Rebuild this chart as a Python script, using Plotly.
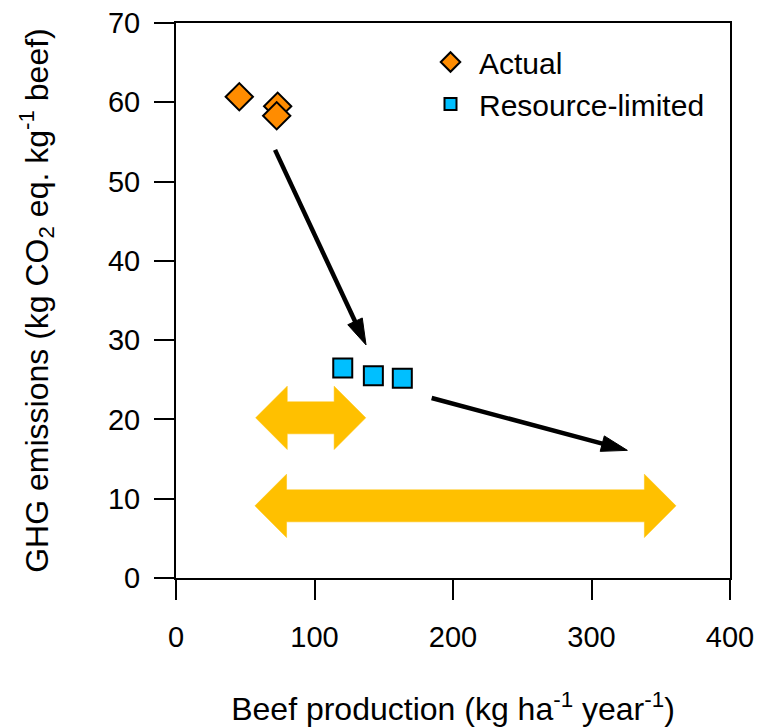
import plotly.graph_objects as go

# ---------------- data ----------------
actual_x = [45.7, 73.4, 72.7]
actual_y = [60.7, 59.5, 58.3]

limited_x = [120.4, 142.5, 163.4]
limited_y = [26.5, 25.5, 25.2]

# black arrows (start x, start y, end x, end y)
arrow_x0 = [71.5, 184.6]
arrow_y0 = [54.0, 22.7]
arrow_x1 = [137.2, 325.9]
arrow_y1 = [29.4, 16.1]

# yellow double arrows (range of beef production, at a given y)
range_lo = [57.5, 57.0]
range_hi = [137.0, 361.0]
range_y = [20.2, 9.1]

x_ticks = [0, 100, 200, 300, 400]
y_ticks = [0, 10, 20, 30, 40, 50, 60, 70]

# ---------------- layout constants ----------------
W, H = 757, 727
PL, PR, PT, PB = 176, 730, 23, 578   # plot area in page pixels
ML, MT = PL, PT
MR = W - PR
MB = H - PB
XR = [0, 400]
YR = [0, 70]
sx = (PR - PL) / (XR[1] - XR[0])   # px per x unit
sy = (PB - PT) / (YR[1] - YR[0])   # px per y unit

FONT = "Arial, Liberation Sans, sans-serif"

fig = go.Figure()

# yellow double arrows
HEAD_L, HEAD_HW, SHAFT_HW = 31.6, 31.7, 16.0
for lo, hi, yc in zip(range_lo, range_hi, range_y):
    hl = HEAD_L / sx
    hh = HEAD_HW / sy
    sh = SHAFT_HW / sy
    xs = [lo, lo + hl, lo + hl, hi - hl, hi - hl, hi, hi - hl, hi - hl, lo + hl, lo + hl, lo]
    ys = [yc, yc + hh, yc + sh, yc + sh, yc + hh, yc, yc - hh, yc - sh, yc - sh, yc - hh, yc]
    fig.add_trace(go.Scatter(x=xs, y=ys, mode="lines", fill="toself",
                             fillcolor="#FFC000", line=dict(color="#FFC000", width=0.5),
                             showlegend=False, hoverinfo="skip"))

# black arrows
AL, AW = 26.0, 8.0
for x0, y0, x1, y1 in zip(arrow_x0, arrow_y0, arrow_x1, arrow_y1):
    dx, dy = (x1 - x0) * sx, (y1 - y0) * sy
    n = (dx * dx + dy * dy) ** 0.5
    ux, uy = dx / n, dy / n
    px, py = -uy, ux
    bx, by = x1 * sx - ux * AL, y1 * sy - uy * AL
    lx, ly = x1 * sx - ux * (AL - 3), y1 * sy - uy * (AL - 3)
    fig.add_trace(go.Scatter(x=[x0, lx / sx], y=[y0, ly / sy], mode="lines",
                             line=dict(color="black", width=4.5),
                             showlegend=False, hoverinfo="skip"))
    tri_x = [x1, (bx + px * AW) / sx, (bx - px * AW) / sx, x1]
    tri_y = [y1, (by + py * AW) / sy, (by - py * AW) / sy, y1]
    fig.add_trace(go.Scatter(x=tri_x, y=tri_y, mode="lines", fill="toself",
                             fillcolor="black", line=dict(color="black", width=1),
                             showlegend=False, hoverinfo="skip"))

# data points
fig.add_trace(go.Scatter(x=actual_x, y=actual_y, mode="markers", name="Actual",
                         marker=dict(symbol="diamond", size=21, color="#FF8C00",
                                     line=dict(color="black", width=2)),
                         showlegend=False))
fig.add_trace(go.Scatter(x=limited_x, y=limited_y, mode="markers", name="Resource-limited",
                         marker=dict(symbol="square", size=19, color="#00BFFF",
                                     line=dict(color="black", width=2)),
                         showlegend=False))

# legend entries
fig.add_trace(go.Scatter(x=[None], y=[None], mode="markers", name="Actual",
                         marker=dict(symbol="diamond", size=15, color="#FF8C00",
                                     line=dict(color="black", width=2))))
fig.add_trace(go.Scatter(x=[None], y=[None], mode="markers", name="Resource-limited",
                         marker=dict(symbol="square", size=12, color="#00BFFF",
                                     line=dict(color="black", width=2))))

axis_common = dict(showgrid=False, zeroline=False, showline=True, linecolor="black",
                   linewidth=2, mirror=True, ticks="outside", ticklen=20, tickwidth=2,
                   tickcolor="black", automargin=False, ticklabeloverflow="allow",
                   tickfont=dict(family=FONT, size=29, color="black"))

fig.update_layout(
    width=W, height=H,
    margin=dict(l=ML, r=MR, t=MT, b=MB, pad=0, autoexpand=False),
    paper_bgcolor="white", plot_bgcolor="white",
    font=dict(family=FONT, color="black"),
    xaxis=dict(range=XR, tickvals=x_ticks, ticklabelstandoff=12,
               title=dict(text="Beef production (kg ha<sup>-1</sup> year<sup>-1</sup>)",
                          font=dict(family=FONT, size=32, color="black"), standoff=49),
               **axis_common),
    yaxis=dict(range=YR, tickvals=y_ticks, ticklabelstandoff=8,
               title=dict(text="GHG emissions (kg CO<sub>2</sub> eq. kg<sup>-1</sup> beef)",
                          font=dict(family=FONT, size=32, color="black"), standoff=50),
               **axis_common),
    legend=dict(x=(422 - PL) / (PR - PL), y=1 - (36 - PT) / (PB - PT),
                xanchor="left", yanchor="top", bgcolor="rgba(0,0,0,0)",
                font=dict(family=FONT, size=30, color="black"),
                itemwidth=47, tracegroupgap=0),
    showlegend=True,
)

fig.write_html("out.html", config={"displayModeBar": False},
               post_script="document.body.style.margin='0';document.body.style.overflow='hidden';")
